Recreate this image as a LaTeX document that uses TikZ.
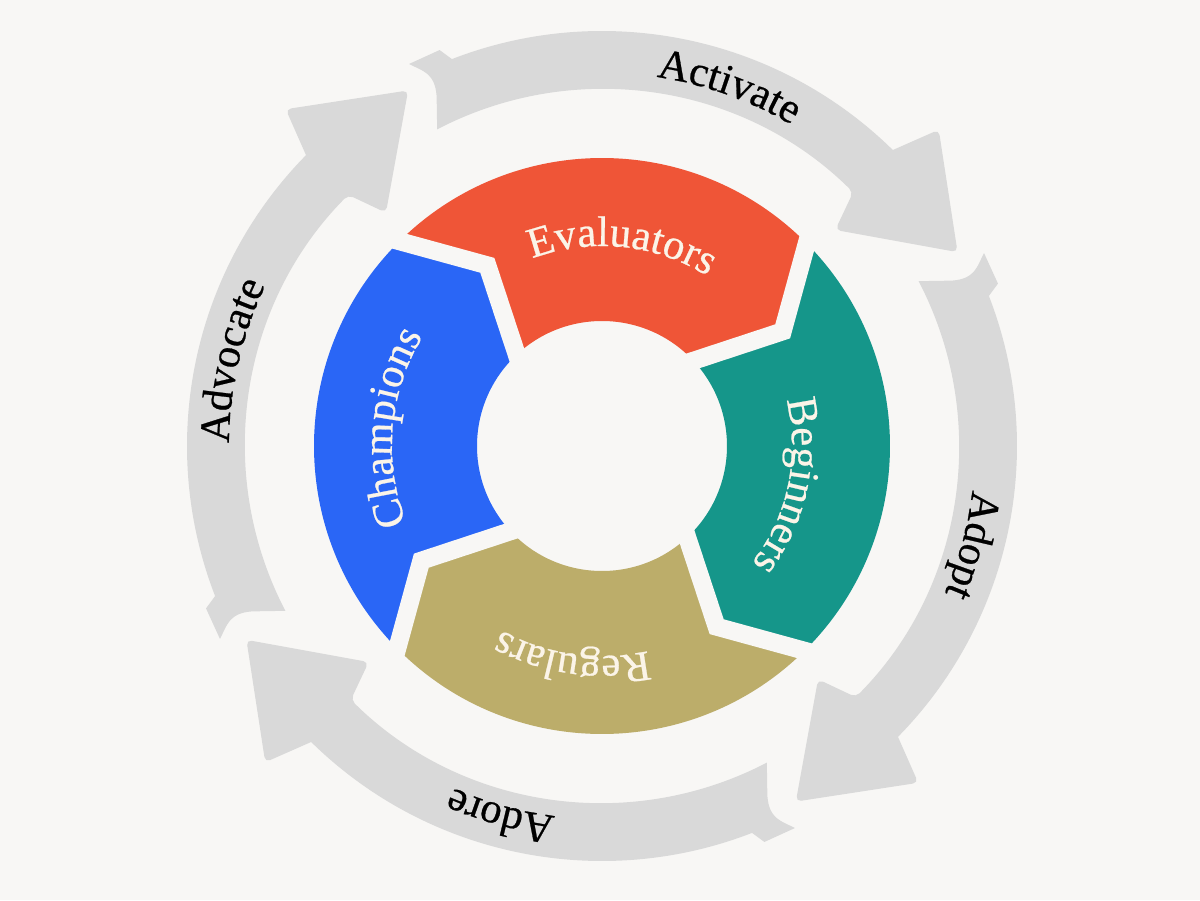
\documentclass[tikz,border=0pt]{standalone}
\usepackage{fontspec}
\setmainfont{Liberation Serif}[FakeBold=0.6]
\usetikzlibrary{decorations.text}
\definecolor{paper}{HTML}{F8F7F5}
\definecolor{arrowgray}{HTML}{D9D9D9}
\definecolor{evalred}{HTML}{EF5537}
\definecolor{beginteal}{HTML}{15968A}
\definecolor{regkhaki}{HTML}{BCAD6A}
\definecolor{champblue}{HTML}{2A66F6}
\definecolor{cream}{HTML}{FBF4E8}
\newcommand{\labelfont}{\fontsize{32}{38}\selectfont}

\begin{document}
\begin{tikzpicture}[x=0.75pt,y=0.75pt,
	segment/.style={insert path={(134.7:288) arc[start angle=134.7,end angle=44.7,radius=288] -- (32.4:214) -- (43:125) arc[start angle=43,end angle=133,radius=125] -- (122.4:214) -- cycle}},
	gap/.style={draw=paper,line width=13.5pt,insert path={(46:300) -- (32.4:214) -- (49.8:100)}},
	cyclearrow/.style={fill=arrowgray,insert path={(117.5:357) -- (115.3:387) .. controls (114.1:409) and (115.6:416) .. (116.8:428) -- (112.3:428) -- (111.2:415) arc[start angle=111.2,end angle=45.5,radius=415] [rounded corners=4pt] -- (43.2:462) -- (28.6:405) -- (42.8:318) -- (45.3:357) [sharp corners] arc[start angle=45.3,end angle=117.5,radius=357] -- cycle}},
	ringlabel/.style={decorate,decoration={text along path,text align=center,text color=cream,text={|\labelfont|#1}}},
	arrowlabel/.style={decorate,decoration={text along path,text align=center,text color=black,text={|\labelfont|#1}}}]
	\useasboundingbox (-602,-454) rectangle (598,446);
	\fill[paper] (-602,-454) rectangle (598,446);
	\path[cyclearrow];
	\path[rotate=-90,cyclearrow];
	\path[rotate=180,cyclearrow];
	\path[rotate=90,cyclearrow];
	\fill[evalred,segment];
	\fill[beginteal,rotate=-90,segment];
	\fill[regkhaki,rotate=180,segment];
	\fill[champblue,rotate=90,segment];
	\path[gap];
	\path[rotate=-90,gap];
	\path[rotate=180,gap];
	\path[rotate=90,gap];
	\path[ringlabel=Evaluators] (119.3:200) arc[start angle=119.3,end angle=49.3,radius=200];
	\path[ringlabel=Beginners] (23:190) arc[start angle=23,end angle=-47,radius=190];
	\path[ringlabel=Regulars] (-63:210) arc[start angle=-63,end angle=-133,radius=210];
	\path[ringlabel=Champions] (210:210) arc[start angle=210,end angle=140,radius=210];
	\path[arrowlabel=Activate] (95.5:373) arc[start angle=95.5,end angle=45.5,radius=373];
	\path[arrowlabel=Adopt] (10:373) arc[start angle=10,end angle=-40,radius=373];
	\path[arrowlabel=Adore] (-80.4:373) arc[start angle=-80.4,end angle=-130.4,radius=373];
	\path[arrowlabel=Advocate] (192:373) arc[start angle=192,end angle=142,radius=373];
\end{tikzpicture}
\end{document}
